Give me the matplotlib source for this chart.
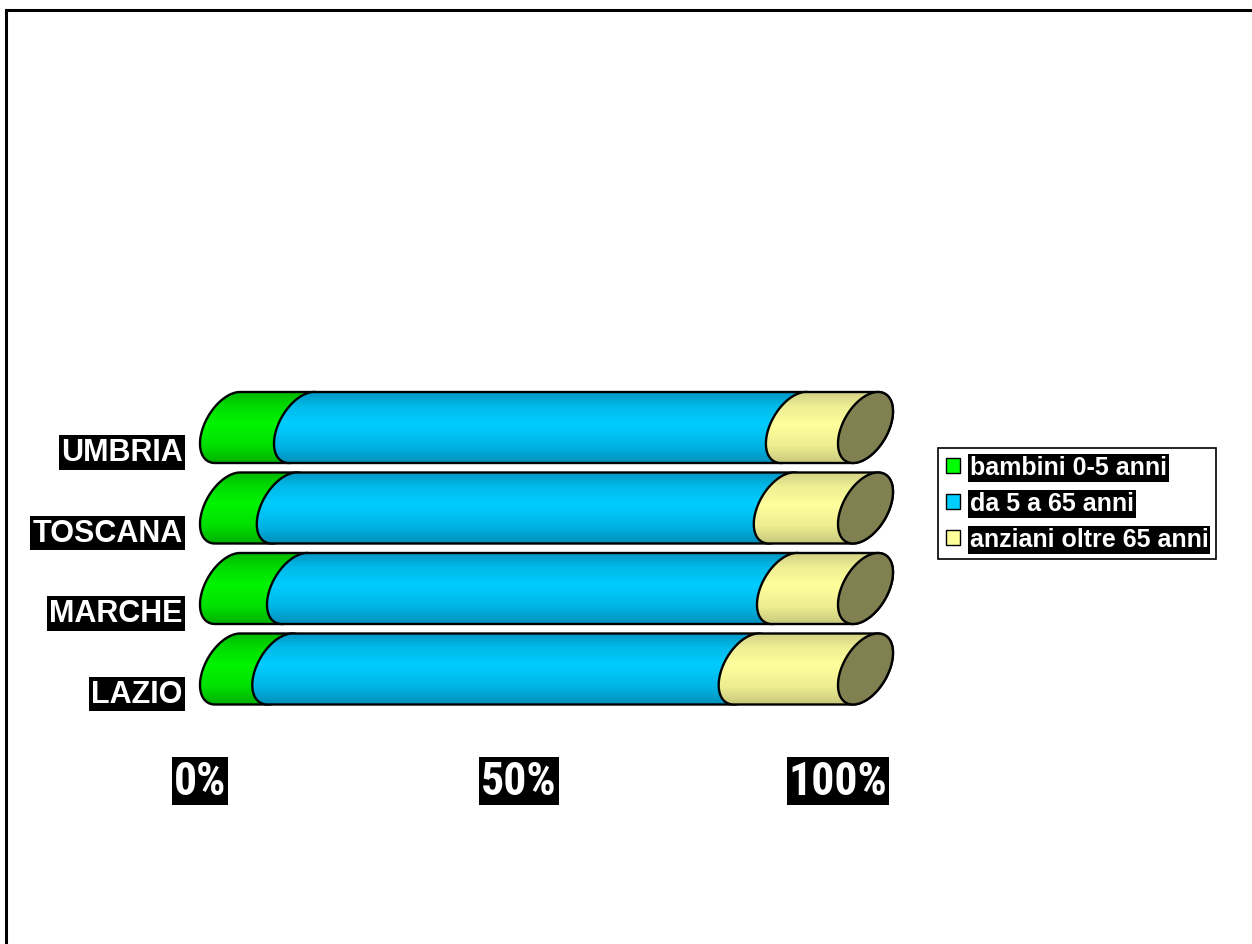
import numpy as np
import matplotlib
matplotlib.use("Agg")
import matplotlib.pyplot as plt
from matplotlib.patches import Polygon, Rectangle, Patch
from matplotlib.colors import LinearSegmentedColormap
from matplotlib import font_manager
from matplotlib.font_manager import FontProperties

# ---- data ---------------------------------------------------------------
categories = ["LAZIO", "MARCHE", "TOSCANA", "UMBRIA"]
bambini = [8.2, 10.5, 8.9, 11.6]          # 0-5 anni (%)
da5a65 = [73.1, 76.8, 77.9, 77.1]         # 5-65 anni (%)
anziani = [18.7, 12.7, 13.2, 11.3]        # oltre 65 anni (%)
series_names = ["bambini 0-5 anni", "da 5 a 65 anni", "anziani oltre 65 anni"]
tick_values = [0, 50, 100]
tick_labels = ["0%", "50%", "100%"]

# ---- styling ------------------------------------------------------------
W, H = 1252, 945
legend_colors = ["#00FF00", "#00CCFF", "#FFFF99"]
gradients = [
    [(0.0, "#00B800"), (0.2, "#00DC00"), (0.45, "#00F400"), (0.75, "#00E000"), (1.0, "#00B000")],
    [(0.0, "#0096C4"), (0.2, "#00BAE8"), (0.45, "#00CCFF"), (0.75, "#00B6E6"), (1.0, "#0090BC")],
    [(0.0, "#D0D084"), (0.2, "#EEEE94"), (0.45, "#FFFF9C"), (0.75, "#EEEE92"), (1.0, "#C8C87C")],
]
cap_color = "#808050"


def pick_family(names, default):
    for n in names:
        try:
            font_manager.findfont(FontProperties(family=n), fallback_to_default=False)
            return n
        except ValueError:
            continue
    return default


base_family = pick_family(["Liberation Sans", "Arial"], "DejaVu Sans")
narrow_family = pick_family(["Liberation Sans Narrow", "Arial Narrow",
                             "Roboto Condensed", "DejaVu Sans Condensed"], None)

fig = plt.figure(figsize=(W / 100, H / 100), dpi=100)

# axes: x in percent, y in category slots
px_per_pct = 6.38
px_per_cat = 80.5
x_lo, x_hi = -5, 115
y_lo, y_hi = -0.5, 3.5
ax_left_px = 200 + x_lo * px_per_pct
ax_bottom_px = 670 + 0.5 * px_per_cat
ax = fig.add_axes([ax_left_px / W, 1 - ax_bottom_px / H,
                   (x_hi - x_lo) * px_per_pct / W, (y_hi - y_lo) * px_per_cat / H])
ax.set_xlim(x_lo, x_hi)
ax.set_ylim(y_lo, y_hi)
ax.axis("off")

# cylinder cross-section (oblique view), in data units
a = 27.5 / px_per_pct          # half width of the end ellipse
R = 35.5 / px_per_cat          # half height of the cylinder
d = 12.5 / px_per_pct          # horizontal shift of the topmost point
c = d * R / a
b = np.sqrt(R ** 2 - c ** 2)
t_top = np.arctan2(c, b)


def ellipse_pts(cx, cy, t0, t1, n=80):
    t = np.linspace(t0, t1, n)
    return np.column_stack([cx + a * np.sin(t), cy + b * np.cos(t) + c * np.sin(t)])


def segment(s0, s1, cy):
    right = ellipse_pts(s1 + a, cy, t_top, t_top + np.pi)
    left = ellipse_pts(s0 + a, cy, t_top + np.pi, t_top + 2 * np.pi)
    return np.vstack([right, left])


series = [bambini, da5a65, anziani]
grad_rows = np.linspace(0, 1, 256).reshape(-1, 1)

for i, cat in enumerate(categories):
    start = 0.0
    for k, vals in enumerate(series):
        end = start + vals[i]
        pts = segment(start, end, i)
        cmap = LinearSegmentedColormap.from_list(f"g{k}", gradients[k])
        poly = Polygon(pts, closed=True, facecolor="none", edgecolor="black",
                       lw=1.7, zorder=3 + 2 * k + 10 * i)
        ax.add_patch(poly)
        im = ax.imshow(grad_rows, cmap=cmap, aspect="auto", origin="upper",
                       extent=[start, end + 2 * a, i - R, i + R],
                       zorder=2 + 2 * k + 10 * i, interpolation="bilinear")
        im.set_clip_path(poly)
        start = end
    cap = Polygon(ellipse_pts(100 + a, i, 0, 2 * np.pi, 160), closed=True,
                  facecolor=cap_color, edgecolor="black", lw=1.7, zorder=9 + 10 * i)
    ax.add_patch(cap)

ax.set_xlim(x_lo, x_hi)
ax.set_ylim(y_lo, y_hi)

# category labels (white on black)
for i, cat in enumerate(categories):
    ax.text(-2.75, i - 33.0 / px_per_cat, cat, ha="right", va="baseline",
            color="white", fontsize=22, fontweight="bold", family=base_family,
            bbox=dict(facecolor="black", edgecolor="none", boxstyle="square,pad=0.07"),
            zorder=50)

# percentage axis labels
if narrow_family is not None:
    pct_kw = dict(family=narrow_family, fontsize=33)
else:
    pct_kw = dict(family=base_family, fontsize=28)
for v, lab in zip(tick_values, tick_labels):
    ax.text(v, y_lo - (795 - ax_bottom_px) / px_per_cat, lab, ha="center", va="baseline",
            color="white", fontweight="bold",
            bbox=dict(facecolor="black", edgecolor="none", boxstyle="square,pad=0.04"),
            zorder=50, **pct_kw)

# legend
handles = [Patch(facecolor=col, edgecolor="black", lw=1.0) for col in legend_colors]
leg = fig.legend(handles, series_names, loc="upper left",
                 bbox_to_anchor=(938 / W, 1 - 449 / H), borderaxespad=0,
                 frameon=True, fancybox=False, edgecolor="black", framealpha=1,
                 prop=FontProperties(family=base_family, weight="bold", size=18),
                 handlelength=0.56, handleheight=0.56, handletextpad=0.4,
                 labelspacing=0.48, borderpad=0.3)
leg.get_frame().set_linewidth(1.2)
for t in leg.get_texts():
    t.set_color("white")
    t.set_bbox(dict(facecolor="black", edgecolor="none", boxstyle="square,pad=0.08"))

# outer chart frame
fig.add_artist(Rectangle((6 / W, -0.1), 1.2, 1 - 11 / H + 0.1, transform=fig.transFigure,
                         fill=False, edgecolor="black", lw=2.2))

fig.savefig("out.png", dpi=100, facecolor="white")
